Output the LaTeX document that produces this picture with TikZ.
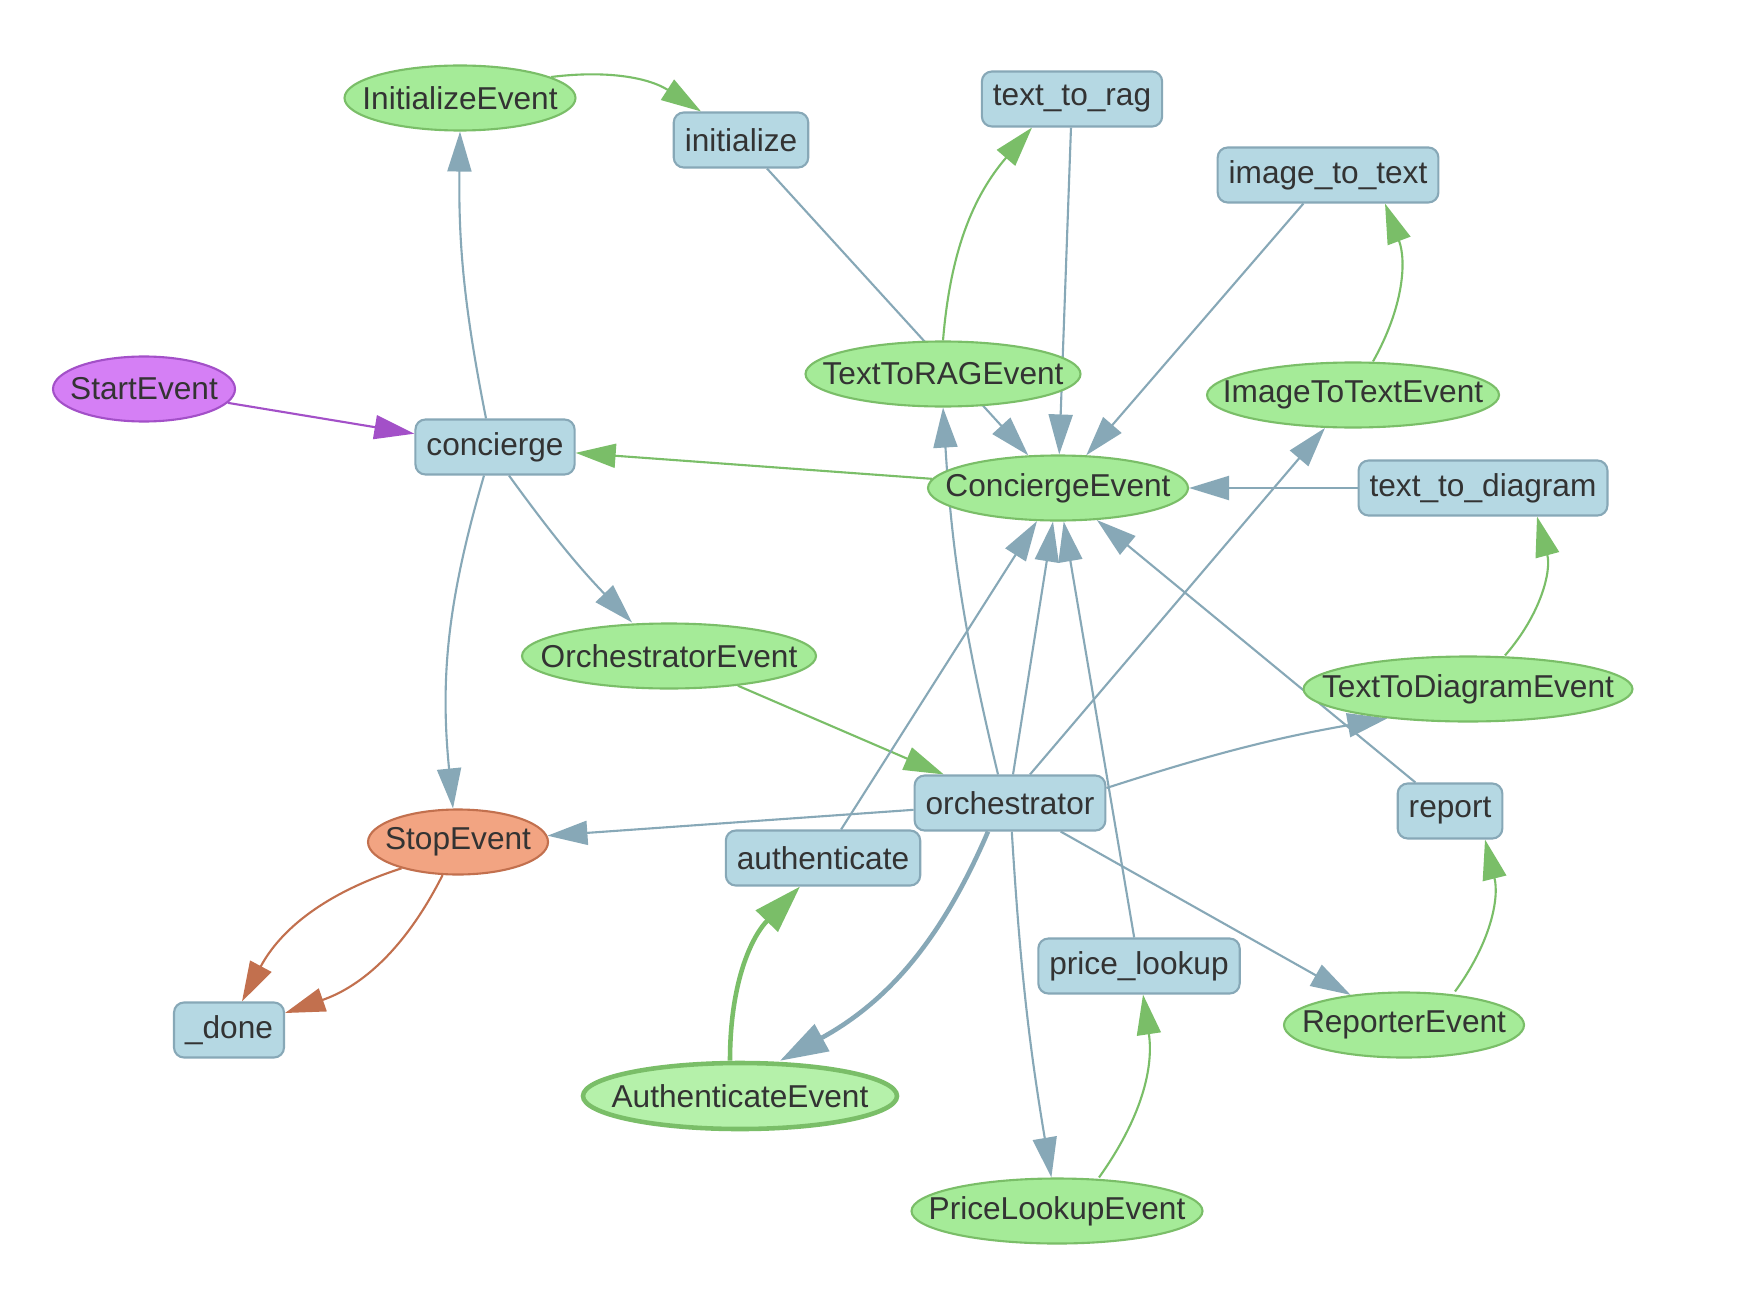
\documentclass[tikz,border=0pt]{standalone}
\usepackage{fontspec}
\setmainfont{Liberation Sans}
\usetikzlibrary{shapes.geometric, arrows.meta, backgrounds}

\definecolor{stepfill}{RGB}{181,216,227}
\definecolor{stepline}{RGB}{135,168,183}
\definecolor{evfill}{RGB}{165,235,152}
\definecolor{evline}{RGB}{122,190,104}
\definecolor{authfill}{RGB}{181,241,170}
\definecolor{startfill}{RGB}{213,127,245}
\definecolor{startline}{RGB}{163,80,200}
\definecolor{stopfill}{RGB}{242,164,130}
\definecolor{stopline}{RGB}{194,112,78}
\definecolor{labeltext}{RGB}{51,51,51}

\tikzset{
  stepbox/.style={rectangle, rounded corners=0.1cm, draw=stepline, fill=stepfill, line width=0.6pt, minimum height=0.55cm, inner xsep=0.11cm},
  evt/.style={ellipse, draw=evline, fill=evfill, line width=0.6pt, inner sep=0pt, minimum height=0.65cm, minimum width=#1,
    execute at begin node={\hbox to 0pt\bgroup\hss}, execute at end node={\hss\egroup}},
  flow/.style={draw=stepline, line width=0.6pt, -{Triangle[length=0.4cm,width=0.24cm]}},
  emit/.style={flow, draw=evline},
  heavy/.style={line width=1.3pt, -{Triangle[length=0.48cm,width=0.3cm]}},
}

\begin{document}
\begin{tikzpicture}[font=\fontsize{9}{11}\selectfont, text=labeltext]
\useasboundingbox (0,0) rectangle (17.42,-12.88);

% steps
\node[stepbox] (concierge) at (4.95,-4.47) {concierge};
\node[stepbox] (initialize) at (7.41,-1.40) {initialize};
\node[stepbox] (textRag) at (10.72,-0.99) {text\_to\_rag};
\node[stepbox] (imgText) at (13.28,-1.75) {image\_to\_text};
\node[stepbox] (textDiag) at (14.83,-4.88) {text\_to\_diagram};
\node[stepbox] (orchestrator) at (10.10,-8.03) {orchestrator};
\node[stepbox] (report) at (14.50,-8.11) {report};
\node[stepbox] (authenticate) at (8.23,-8.58) {authenticate};
\node[stepbox] (priceLookup) at (11.39,-9.66) {price\_lookup};
\node[stepbox] (done) at (2.29,-10.30) {\_done};

% events
\node[evt=1.82cm, draw=startline, fill=startfill] (startEv) at (1.44,-3.89) {StartEvent};
\node[evt=2.31cm] (initEv) at (4.60,-0.98) {InitializeEvent};
\node[evt=2.75cm] (ragEv) at (9.43,-3.74) {TextToRAGEvent};
\node[evt=2.92cm] (imgEv) at (13.53,-3.95) {ImageToTextEvent};
\node[evt=2.60cm] (conciergeEv) at (10.58,-4.88) {ConciergeEvent};
\node[evt=2.94cm] (orchEv) at (6.69,-6.56) {OrchestratorEvent};
\node[evt=3.29cm] (diagEv) at (14.68,-6.89) {TextToDiagramEvent};
\node[evt=1.80cm, draw=stopline, fill=stopfill] (stopEv) at (4.58,-8.42) {StopEvent};
\node[evt=2.40cm] (reporterEv) at (14.04,-10.25) {ReporterEvent};
\node[evt=3.14cm, fill=authfill, line width=1.3pt, minimum height=0.66cm] (authEv) at (7.40,-10.96) {AuthenticateEvent};
\node[evt=2.91cm] (priceEv) at (10.57,-12.11) {PriceLookupEvent};

% connectors, behind the nodes
\begin{pgfonlayer}{background}
\fill[white] (0,0) rectangle (17.42,-12.88);
\draw[flow, draw=startline] (startEv) -- (concierge);
\draw[flow] ([xshift=-0.9mm]concierge.north) to[bend left=6] (initEv.south);
\draw[emit] (initEv.13) to[bend left=20] ([xshift=-4mm]initialize.north);
\draw[flow] (initialize) -- (conciergeEv);
\draw[emit] (ragEv.north) to[bend left=18] ([xshift=-4mm]textRag.south);
\draw[flow] (textRag) -- (conciergeEv);
\draw[flow] (imgText) -- (conciergeEv);
\draw[emit] ([xshift=2mm]imgEv.north) to[bend right=25] ([xshift=5.7mm]imgText.south);
\draw[emit] (conciergeEv) -- (concierge);
\draw[flow] (textDiag) -- (conciergeEv);
\draw[emit] ([xshift=3.7mm]diagEv.north) to[bend right=28] ([xshift=5.4mm]textDiag.south);
\draw[flow] ([xshift=1.4mm]concierge.south) to[bend right=4] ([xshift=-3.7mm]orchEv.north);
\draw[flow] ([xshift=-1.1mm]concierge.south) to[bend right=11] ([xshift=-0.5mm]stopEv.north);
\draw[emit] (orchEv) -- (orchestrator);
\draw[flow] (orchestrator) -- (stopEv);
\draw[flow] ([xshift=-1.2mm]orchestrator.north) to[bend left=5] (ragEv.south);
\draw[flow] ([xshift=0.3mm]orchestrator.north) -- ([xshift=-0.5mm]conciergeEv.south);
\draw[flow] ([xshift=2mm]orchestrator.north) -- (imgEv);
\draw[flow] ([yshift=1.5mm]orchestrator.east) to[bend left=4] (diagEv.200);
\draw[flow, heavy] ([xshift=-2.2mm]orchestrator.south) to[bend left=19] ([xshift=4mm]authEv.north);
\draw[flow] (orchestrator) to[bend right=3] (priceEv);
\draw[flow] (orchestrator) -- (reporterEv);
\draw[flow] (authenticate) -- (conciergeEv);
\draw[flow] (priceLookup) -- (conciergeEv);
\draw[flow] (report) -- (conciergeEv);
\draw[emit] ([xshift=5.1mm]reporterEv.north) to[bend right=25] ([xshift=3.5mm]report.south);
\draw[emit] ([xshift=4.2mm]priceEv.north) to[bend right=22] ([xshift=0.4mm]priceLookup.south);
\draw[emit, heavy] ([xshift=-1mm]authEv.north) to[bend left=22] ([xshift=-2.3mm]authenticate.south);
\draw[flow, draw=stopline] (stopEv.205) to[bend right=22] ([xshift=1.3mm]done.north);
\draw[flow, draw=stopline] (stopEv.245) to[bend left=22] ([yshift=1.7mm]done.east);
\end{pgfonlayer}
\end{tikzpicture}
\end{document}
